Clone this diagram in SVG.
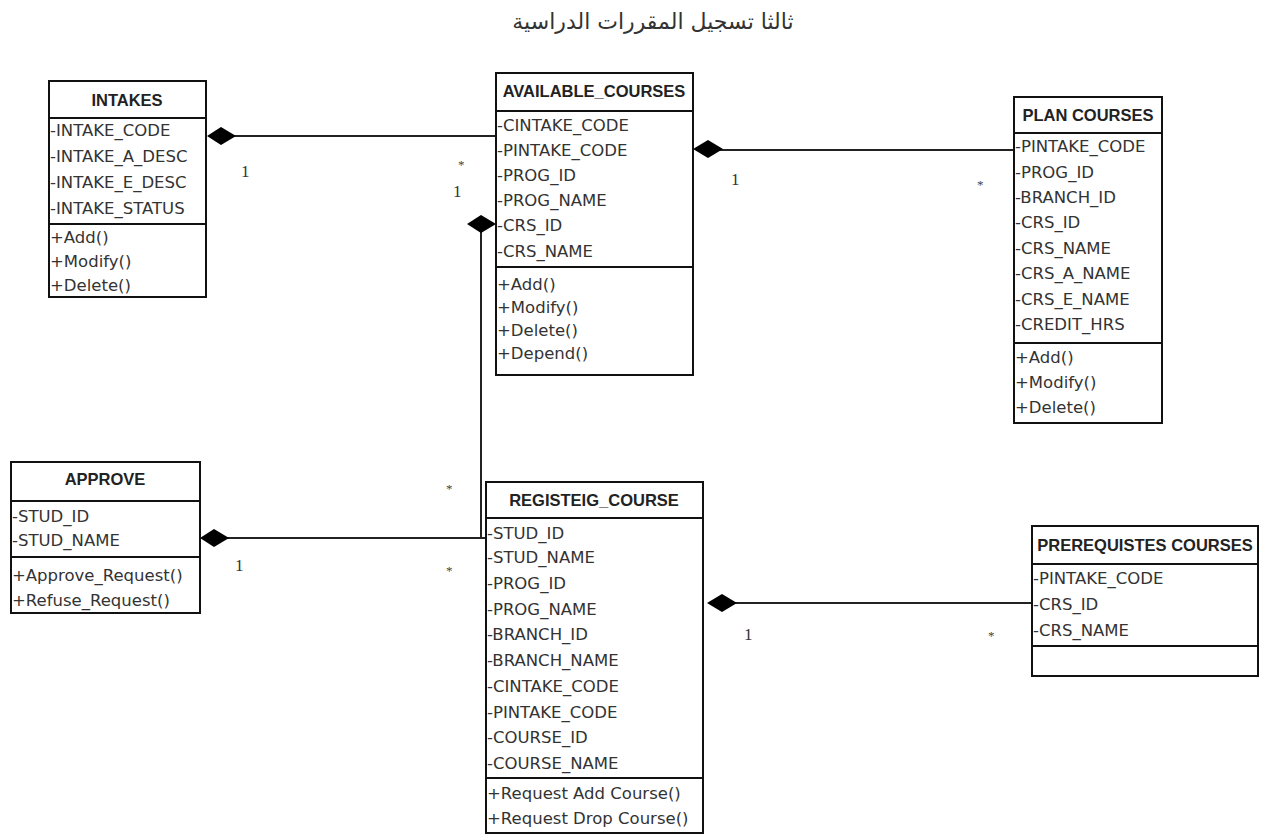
<svg xmlns="http://www.w3.org/2000/svg" width="1263" height="835" viewBox="0 0 1263 835">
<style>
.box{fill:#fff;stroke:#111;stroke-width:2}
.sep{stroke:#111;stroke-width:2}
.hdr{font-family:"Liberation Sans",Arial,sans-serif;font-weight:bold;font-size:16.5px;fill:#222;text-anchor:middle}
.t{font-family:"DejaVu Sans",sans-serif;font-size:16.5px;fill:#333}
.m{font-family:"Liberation Serif","Times New Roman",serif;font-size:17px;fill:#333}
.s{font-family:"Liberation Serif","Times New Roman",serif;font-size:13px;fill:#444}
.ln{stroke:#222;stroke-width:2;fill:none}
.dia{fill:#000}
.title{font-family:"DejaVu Sans","Noto Sans",sans-serif;font-size:22px;fill:#333;text-anchor:middle}
</style>
<rect width="1263" height="835" fill="#fff"/>
<text class="title" x="653" y="29" direction="rtl">ثالثا تسجيل المقررات الدراسية</text>

<g id="connectors">
  <line class="ln" x1="220" y1="136" x2="496" y2="136"/>
  <path class="dia" d="M207,136 L221,127 L236,136 L221,145 Z"/>
  <line class="ln" x1="708" y1="150" x2="1014" y2="150"/>
  <path class="dia" d="M693,149 L708,140 L723,149 L708,158 Z"/>
  <polyline class="ln" points="481,224 481,538 486,538"/>
  <path class="dia" d="M467,224 L481,215 L496,224 L481,233 Z"/>
  <line class="ln" x1="214" y1="538" x2="486" y2="538"/>
  <path class="dia" d="M200,538 L214,529 L229,538 L214,547 Z"/>
  <line class="ln" x1="722" y1="603" x2="1032" y2="603"/>
  <path class="dia" d="M707,603 L722,594 L737,603 L722,612 Z"/>
  <text class="m" x="241" y="177">1</text>
  <text class="s" x="458" y="169">*</text>
  <text class="m" x="453" y="197">1</text>
  <text class="m" x="731" y="185">1</text>
  <text class="s" x="977" y="189">*</text>
  <text class="s" x="446" y="493">*</text>
  <text class="s" x="446" y="575">*</text>
  <text class="m" x="235" y="571">1</text>
  <text class="m" x="744" y="640">1</text>
  <text class="s" x="988" y="640">*</text>
</g>

<g id="intakes">
  <rect class="box" x="49" y="81" width="157" height="216"/>
  <line class="sep" x1="49" y1="118" x2="206" y2="118"/>
  <line class="sep" x1="49" y1="224" x2="206" y2="224"/>
  <text class="hdr" x="127" y="106">INTAKES</text>
  <text class="t" x="50" y="136">-INTAKE_CODE</text>
  <text class="t" x="50" y="162">-INTAKE_A_DESC</text>
  <text class="t" x="50" y="188">-INTAKE_E_DESC</text>
  <text class="t" x="50" y="214">-INTAKE_STATUS</text>
  <text class="t" x="50" y="243">+Add()</text>
  <text class="t" x="50" y="267">+Modify()</text>
  <text class="t" x="50" y="291">+Delete()</text>
</g>

<g id="available_courses">
  <rect class="box" x="496" y="73" width="197" height="302"/>
  <line class="sep" x1="496" y1="111" x2="693" y2="111"/>
  <line class="sep" x1="496" y1="267" x2="693" y2="267"/>
  <text class="hdr" x="594" y="97">AVAILABLE_COURSES</text>
  <text class="t" x="497" y="131">-CINTAKE_CODE</text>
  <text class="t" x="497" y="156">-PINTAKE_CODE</text>
  <text class="t" x="497" y="181">-PROG_ID</text>
  <text class="t" x="497" y="206">-PROG_NAME</text>
  <text class="t" x="497" y="231">-CRS_ID</text>
  <text class="t" x="497" y="257">-CRS_NAME</text>
  <text class="t" x="497" y="290">+Add()</text>
  <text class="t" x="497" y="313">+Modify()</text>
  <text class="t" x="497" y="336">+Delete()</text>
  <text class="t" x="497" y="359">+Depend()</text>
</g>

<g id="plan_courses">
  <rect class="box" x="1014" y="97" width="148" height="326"/>
  <line class="sep" x1="1014" y1="133" x2="1162" y2="133"/>
  <line class="sep" x1="1014" y1="343" x2="1162" y2="343"/>
  <text class="hdr" x="1088" y="121">PLAN COURSES</text>
  <text class="t" x="1015" y="152">-PINTAKE_CODE</text>
  <text class="t" x="1015" y="178">-PROG_ID</text>
  <text class="t" x="1015" y="203">-BRANCH_ID</text>
  <text class="t" x="1015" y="228">-CRS_ID</text>
  <text class="t" x="1015" y="254">-CRS_NAME</text>
  <text class="t" x="1015" y="279">-CRS_A_NAME</text>
  <text class="t" x="1015" y="305">-CRS_E_NAME</text>
  <text class="t" x="1015" y="330">-CREDIT_HRS</text>
  <text class="t" x="1015" y="363">+Add()</text>
  <text class="t" x="1015" y="388">+Modify()</text>
  <text class="t" x="1015" y="413">+Delete()</text>
</g>

<g id="approve">
  <rect class="box" x="11" y="462" width="189" height="151"/>
  <line class="sep" x1="11" y1="501" x2="200" y2="501"/>
  <line class="sep" x1="11" y1="557" x2="200" y2="557"/>
  <text class="hdr" x="105" y="485">APPROVE</text>
  <text class="t" x="12" y="522">-STUD_ID</text>
  <text class="t" x="12" y="546">-STUD_NAME</text>
  <text class="t" x="12" y="581">+Approve_Request()</text>
  <text class="t" x="12" y="606">+Refuse_Request()</text>
</g>

<g id="registeig_course">
  <rect class="box" x="486" y="482" width="217" height="351"/>
  <line class="sep" x1="486" y1="518" x2="703" y2="518"/>
  <line class="sep" x1="486" y1="778" x2="703" y2="778"/>
  <text class="hdr" x="594" y="506">REGISTEIG_COURSE</text>
  <text class="t" x="487" y="539">-STUD_ID</text>
  <text class="t" x="487" y="563">-STUD_NAME</text>
  <text class="t" x="487" y="589">-PROG_ID</text>
  <text class="t" x="487" y="615">-PROG_NAME</text>
  <text class="t" x="487" y="640">-BRANCH_ID</text>
  <text class="t" x="487" y="666">-BRANCH_NAME</text>
  <text class="t" x="487" y="692">-CINTAKE_CODE</text>
  <text class="t" x="487" y="718">-PINTAKE_CODE</text>
  <text class="t" x="487" y="743">-COURSE_ID</text>
  <text class="t" x="487" y="769">-COURSE_NAME</text>
  <text class="t" x="487" y="799">+Request Add Course()</text>
  <text class="t" x="487" y="824">+Request Drop Course()</text>
</g>

<g id="prerequistes_courses">
  <rect class="box" x="1032" y="526" width="226" height="150"/>
  <line class="sep" x1="1032" y1="564" x2="1258" y2="564"/>
  <line class="sep" x1="1032" y1="646" x2="1258" y2="646"/>
  <text class="hdr" x="1145" y="551">PREREQUISTES COURSES</text>
  <text class="t" x="1033" y="584">-PINTAKE_CODE</text>
  <text class="t" x="1033" y="610">-CRS_ID</text>
  <text class="t" x="1033" y="636">-CRS_NAME</text>
</g>
</svg>
